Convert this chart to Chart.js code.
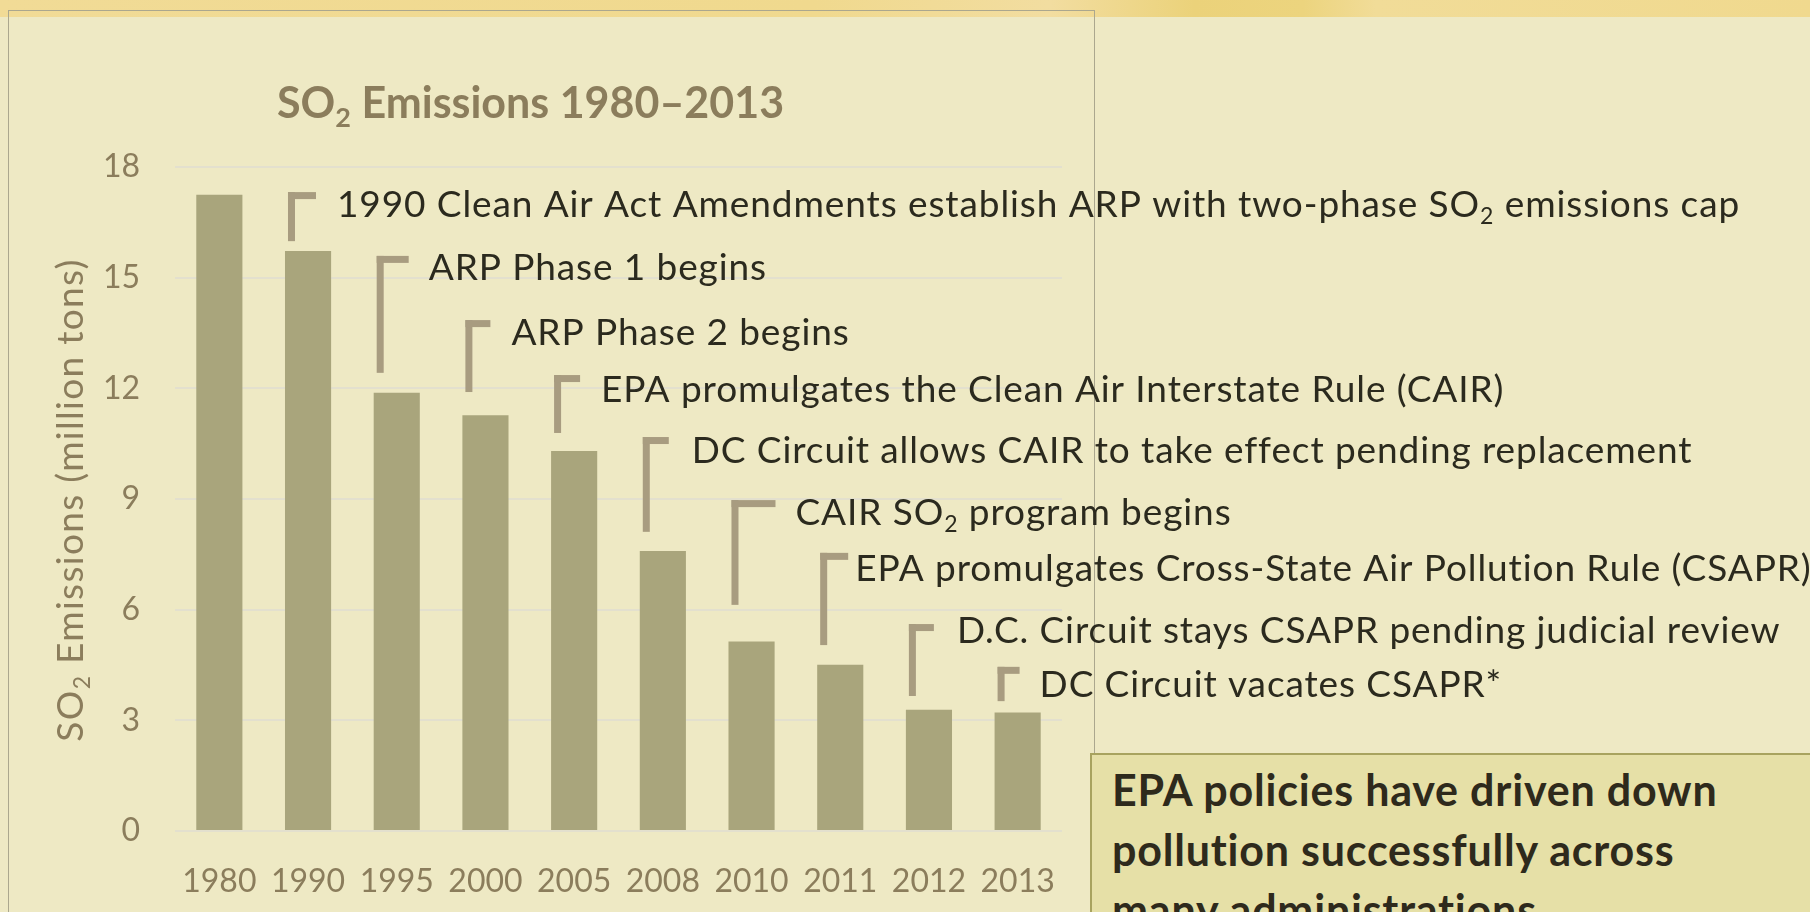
<!DOCTYPE html>
<html>
<head>
<meta charset="utf-8">
<script src="https://cdn.jsdelivr.net/npm/chart.js@4.4.1/dist/chart.umd.min.js"></script>
<style>
  html, body { margin: 0; padding: 0; }
  body {
    width: 1810px; height: 912px; overflow: hidden; position: relative;
    background: #EEE9C4;
    font-family: Lato, 'Open Sans', sans-serif;
  }
  #strip {
    position: absolute; left: 0; top: 0; width: 1810px; height: 17px;
    background: linear-gradient(90deg, #F1DB96 0%, #F0D98E 45%, #F2DDA0 58%, #EBD27A 66%, #ECD47E 72%, #F1DC98 76%, #F0D98E 100%);
  }
  #panel {
    position: absolute; left: 8px; top: 10px; width: 1085px; height: 950px;
    border: 1px solid #ABA78E;
  }
  #chart { position: absolute; left: 0; top: 0; }
  #note {
    position: absolute; left: 1090px; top: 753px; width: 730px; height: 220px;
    box-sizing: border-box; background: #E6E0A7; border: 2px solid #A8A35F;
    padding: 5px 0 0 20px;
    font: bold 43px/60px Lato, 'Open Sans', sans-serif; letter-spacing: 0.8px; color: #2E2A1C;
  }
</style>
</head>
<body>
<div id="strip"></div>
<div id="panel"></div>
<canvas id="chart" width="1810" height="912"></canvas>
<div id="note">EPA policies have driven down<br>pollution successfully across<br>many administrations</div>
<script>
// data
const years = ['1980', '1990', '1995', '2000', '2005', '2008', '2010', '2011', '2012', '2013'];
const so2Million = [17.25, 15.72, 11.88, 11.27, 10.30, 7.59, 5.14, 4.51, 3.29, 3.21];
const yTicks = [0, 3, 6, 9, 12, 15, 18];

const chartTitle = 'SO₂ Emissions 1980–2013';
const yTitle = 'SO₂ Emissions (million tons)';

const eventText = [
  '1990 Clean Air Act Amendments establish ARP with two-phase SO₂ emissions cap',
  'ARP Phase 1 begins',
  'ARP Phase 2 begins',
  'EPA promulgates the Clean Air Interstate Rule (CAIR)',
  'DC Circuit allows CAIR to take effect pending replacement',
  'CAIR SO₂ program begins',
  'EPA promulgates Cross-State Air Pollution Rule (CSAPR)',
  'D.C. Circuit stays CSAPR pending judicial review',
  'DC Circuit vacates CSAPR*'
];
const eventYear = ['1990', '1995', '2000', '2005', '2008', '2010', '2011', '2012', '2013'];

// where each callout sits, in axis units
const leaderTop = [17.32, 15.59, 13.85, 12.36, 10.68, 8.97, 7.54, 5.61, 4.45];
const leaderBottom = [15.99, 12.42, 11.90, 10.79, 8.11, 6.13, 5.04, 3.66, 3.52];
const textBase = [16.65, 14.94, 13.18, 11.64, 9.98, 8.30, 6.79, 5.10, 3.63];
const armLen = [28, 32, 25, 26, 26, 44, 28, 25, 22];
const textGap = [49, 52, 46, 47, 49, 64, 35, 48, 42];

const FONT = "Lato, 'Open Sans', sans-serif";
const AXIS_COLOR = '#8B7D5C';

function drawRich(ctx, str, x, y, size, weight, color, align, spacing) {
  const parts = str.split(/(₂)/).filter(s => s);
  const main = weight + ' ' + size + 'px ' + FONT;
  const sub = weight + ' ' + Math.round(size * 0.62) + 'px ' + FONT;
  ctx.letterSpacing = (spacing || 0) + 'px';
  let total = 0;
  const widths = parts.map(p => {
    ctx.font = p === '₂' ? sub : main;
    const w = ctx.measureText(p === '₂' ? '2' : p).width;
    total += w;
    return w;
  });
  let cx = align === 'center' ? x - total / 2 : x;
  ctx.fillStyle = color;
  ctx.textAlign = 'left';
  ctx.textBaseline = 'alphabetic';
  parts.forEach((p, i) => {
    if (p === '₂') {
      ctx.font = sub;
      ctx.fillText('2', cx, y + size * 0.2);
    } else {
      ctx.font = main;
      ctx.fillText(p, cx, y);
    }
    cx += widths[i];
  });
  ctx.letterSpacing = '0px';
}

const callouts = {
  id: 'callouts',
  afterDatasetsDraw(chart) {
    const ctx = chart.ctx;
    const y = chart.scales.y;
    const meta = chart.getDatasetMeta(0);
    ctx.save();
    eventText.forEach((txt, i) => {
      const bar = meta.data[years.indexOf(eventYear[i])];
      const lx = bar.x - bar.width / 2 + 3;
      const top = y.getPixelForValue(leaderTop[i]);
      const bot = y.getPixelForValue(leaderBottom[i]);
      ctx.fillStyle = '#A89C80';
      ctx.fillRect(lx, top, 7, bot - top);
      ctx.fillRect(lx, top, armLen[i], 7);
      drawRich(ctx, txt, lx + textGap[i], y.getPixelForValue(textBase[i]), 37, 'normal', '#2B2A1E', 'left', 0.9);
    });
    // chart title
    drawRich(ctx, chartTitle, 277, 118, 43, 'bold', AXIS_COLOR, 'left', 0);
    // rotated y axis title
    ctx.translate(83, 500);
    ctx.rotate(-Math.PI / 2);
    drawRich(ctx, yTitle, 0, 0, 37, 'normal', AXIS_COLOR, 'center', 1.3);
    ctx.restore();
  }
};

new Chart(document.getElementById('chart'), {
  type: 'bar',
  data: {
    labels: years,
    datasets: [{
      data: so2Million,
      backgroundColor: '#A9A57C',
      barPercentage: 0.52,
      categoryPercentage: 1
    }]
  },
  options: {
    responsive: false,
    animation: false,
    devicePixelRatio: 1,
    layout: { padding: { left: 0, right: 748, top: 167, bottom: 0 } },
    plugins: { legend: { display: false }, tooltip: { enabled: false } },
    scales: {
      x: {
        grid: { display: false },
        border: { display: false },
        ticks: { color: AXIS_COLOR, font: { family: FONT, size: 32 }, padding: 23, maxRotation: 0 },
        afterFit(s) { s.height = 81; }
      },
      y: {
        min: 0,
        max: 18,
        afterBuildTicks(s) { s.ticks = yTicks.map(v => ({ value: v })); },
        grid: { color: '#E3E0CE', lineWidth: 2, drawTicks: false },
        border: { display: false },
        ticks: { color: AXIS_COLOR, font: { family: FONT, size: 32 }, padding: 35 },
        afterFit(s) { s.width = 175; }
      }
    }
  },
  plugins: [callouts]
});
</script>
</body>
</html>
